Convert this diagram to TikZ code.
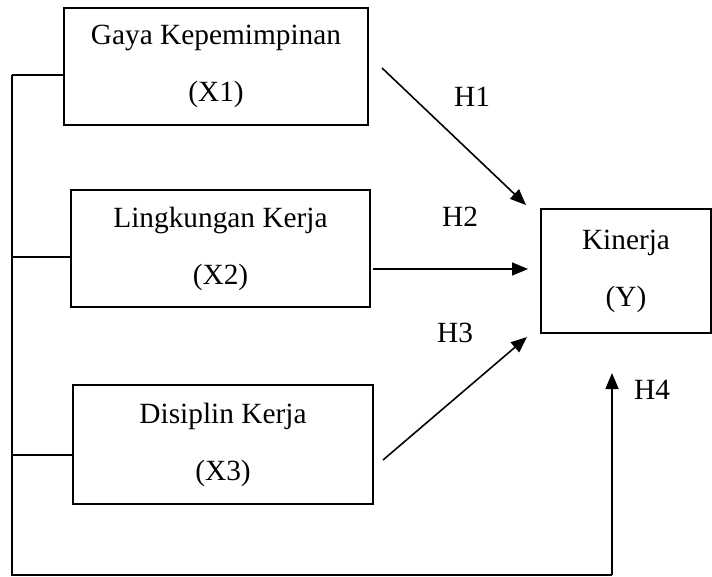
\documentclass[tikz,border=0pt]{standalone}
\usepackage{fontspec}
\setmainfont{Liberation Serif}
\usetikzlibrary{arrows.meta}

\begin{document}
\begin{tikzpicture}[x=0.02cm, y=-0.02cm,
  varbox/.style={draw, rectangle, line width=1.1pt, align=center, inner sep=0pt,
    font=\fontsize{16.7}{32.4}\selectfont},
  link/.style={line width=0.9pt},
  hyp/.style={line width=0.9pt, -{Triangle[length=0.32cm, width=0.26cm]}},
  hlabel/.style={font=\fontsize{16.7}{20}\selectfont}]
\useasboundingbox (0,0) rectangle (712,577);

% variables
\node[varbox, minimum width=6.08cm, minimum height=2.34cm] (x1) at (216,66.5) {Gaya Kepemimpinan\\(X1)};
\node[varbox, minimum width=5.98cm, minimum height=2.34cm] (x2) at (220.5,248.5) {Lingkungan Kerja\\(X2)};
\node[varbox, minimum width=6.0cm, minimum height=2.38cm] (x3) at (223,444.5) {Disiplin Kerja\\(X3)};
\node[varbox, minimum width=3.4cm, minimum height=2.48cm] (y) at (626,271) {Kinerja\\(Y)};

% left bracket
\coordinate (t1) at (12,75);
\coordinate (t2) at (12,257);
\coordinate (t3) at (12,455);
\coordinate (tb) at (12,575);
\coordinate (h4end) at (612,373);
\draw[link] (t1) -- (t1 -| x1.west);
\draw[link] (t2) -- (t2 -| x2.west);
\draw[link] (t3) -- (t3 -| x3.west);
\draw[link] (t1) -- (tb) -- (tb -| h4end);
\draw[hyp] (tb -| h4end) -- (h4end);

% hypotheses
\coordinate (h1a) at (382,68);
\coordinate (h1b) at (526,205);
\coordinate (h2a) at (373,269);
\coordinate (h2b) at (528,269);
\coordinate (h3a) at (383,460);
\coordinate (h3b) at (527,337);
\draw[hyp] (h1a) -- (h1b);
\draw[hyp] (h2a) -- (h2b);
\draw[hyp] (h3a) -- (h3b);

\node[hlabel] (lh1) at (472,97) {H1};
\node[hlabel] (lh2) at (460,217) {H2};
\node[hlabel] (lh3) at (455,333) {H3};
\node[hlabel] (lh4) at (652,390) {H4};
\end{tikzpicture}
\end{document}
